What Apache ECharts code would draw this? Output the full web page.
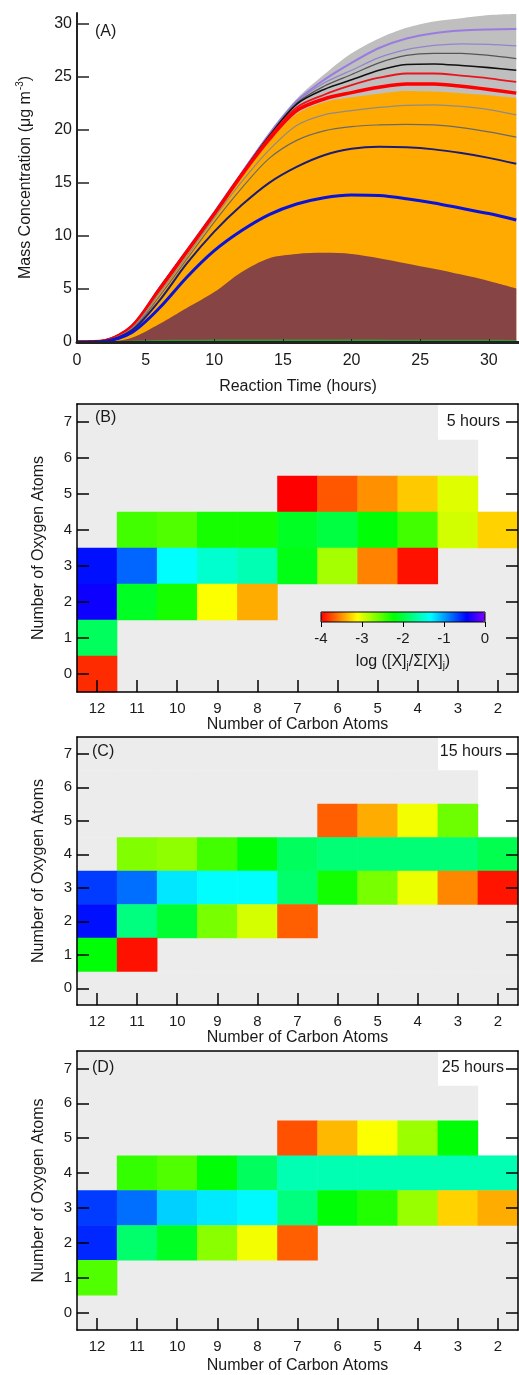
<!DOCTYPE html>
<html>
<head>
<meta charset="utf-8">
<script src="https://cdn.jsdelivr.net/npm/echarts@6.0.0/dist/echarts.min.js"></script>
<style>
  html, body { margin: 0; padding: 0; background: #fff; }
  #chart { width: 519px; height: 1375px; }
</style>
</head>
<body>
<div id="chart"></div>
<script>
// ---- panel A: mass concentration vs reaction time (curves) ----
const times = [0, 2, 4, 6, 8, 10, 12, 14, 16, 18, 20, 22, 24, 26, 28, 30, 32];
const timeTicks = [0, 5, 10, 15, 20, 25, 30];
const massTicks = [0, 5, 10, 15, 20, 25, 30];

const envelope    = [0, 0.15, 1.6, 5.2, 8.7, 12.3, 16.0, 19.7, 22.9, 25.2, 27.2, 28.6, 29.6, 30.2, 30.5, 30.8, 30.9];
const purpleThick = [0, 0.15, 1.55, 5.1, 8.65, 12.25, 15.95, 19.6, 22.7, 24.7, 26.3, 27.7, 28.6, 29.1, 29.35, 29.45, 29.5];
const purpleThin  = [0, 0.15, 1.55, 5.1, 8.6, 12.2, 15.9, 19.5, 22.6, 24.4, 25.6, 26.8, 27.55, 27.95, 28.1, 28.05, 27.9];
const darkGray    = [0, 0.15, 1.5, 5.05, 8.6, 12.2, 15.9, 19.45, 22.5, 24.1, 25.2, 26.3, 27.0, 27.2, 27.2, 27.0, 26.7];
const blackLine   = [0, 0.15, 1.5, 5.05, 8.6, 12.15, 15.85, 19.4, 22.4, 23.8, 24.7, 25.6, 26.15, 26.2, 26.05, 25.85, 25.6];
const redThin     = [0, 0.15, 1.5, 5.0, 8.55, 12.1, 15.8, 19.3, 22.1, 23.3, 24.2, 24.9, 25.3, 25.3, 25.1, 24.85, 24.5];
const redThick    = [0, 0.1, 1.45, 4.95, 8.5, 12.05, 15.75, 19.1, 21.8, 22.9, 23.5, 24.0, 24.3, 24.3, 24.1, 23.8, 23.45];
const orangeTop   = [0, 0.1, 1.4, 4.9, 8.4, 12.0, 15.6, 18.85, 21.5, 22.6, 23.05, 23.4, 23.65, 23.6, 23.45, 23.25, 23.0];
const grayLine2   = [0, 0.1, 1.3, 4.6, 8.1, 11.7, 15.1, 18.1, 20.4, 21.4, 21.8, 22.1, 22.3, 22.35, 22.2, 21.9, 21.4];
const grayLine1   = [0, 0.1, 1.2, 4.3, 7.8, 11.3, 14.5, 17.3, 19.0, 19.9, 20.3, 20.45, 20.5, 20.45, 20.2, 19.8, 19.3];
const navyLine    = [0, 0.1, 1.1, 3.9, 7.4, 10.4, 12.9, 15.0, 16.5, 17.6, 18.2, 18.4, 18.35, 18.15, 17.8, 17.35, 16.8];
const blueLine    = [0, 0.05, 0.9, 3.2, 6.1, 8.6, 10.5, 12.0, 13.0, 13.6, 13.85, 13.8, 13.5, 13.1, 12.6, 12.1, 11.5];
const brownTop    = [0, 0, 0.4, 1.7, 3.2, 4.7, 6.6, 7.9, 8.3, 8.4, 8.3, 7.9, 7.4, 6.9, 6.35, 5.75, 5.05];
const greenLine   = [0, 0, 0.05, 0.1, 0.12, 0.13, 0.14, 0.14, 0.14, 0.14, 0.13, 0.13, 0.12, 0.12, 0.11, 0.11, 0.1];

// ---- panels B-D: log fraction by carbon / oxygen number ----
const carbons = [12, 11, 10, 9, 8, 7, 6, 5, 4, 3, 2];
const oxygens = [0, 1, 2, 3, 4, 5, 6, 7];
const maxOxygen = [7, 7, 7, 7, 7, 7, 7, 7, 7, 6, 4]; // shaded (possible) cells per carbon
const colorTicks = [-4, -3, -2, -1, 0];

// [carbon, oxygen, log value]
const cells5h = [
  [7, 5, -4.0], [6, 5, -3.7], [5, 5, -3.5], [4, 5, -3.3], [3, 5, -3.0],
  [11, 4, -2.45], [10, 4, -2.5], [9, 4, -2.3], [8, 4, -2.3], [7, 4, -2.1], [6, 4, -2.0], [5, 4, -2.2], [4, 4, -2.45], [3, 4, -2.95], [2, 4, -3.27],
  [12, 3, -0.5], [11, 3, -0.8], [10, 3, -1.33], [9, 3, -1.5], [8, 3, -1.6], [7, 3, -2.15], [6, 3, -2.8], [5, 3, -3.55], [4, 3, -3.94],
  [12, 2, -0.4], [11, 2, -2.1], [10, 2, -2.3], [9, 2, -3.1], [8, 2, -3.4],
  [12, 1, -1.9],
  [12, 0, -3.85]
];
const cells15h = [
  [6, 5, -3.67], [5, 5, -3.4], [4, 5, -3.07], [3, 5, -2.6],
  [11, 4, -2.67], [10, 4, -2.72], [9, 4, -2.45], [8, 4, -2.2], [7, 4, -1.9], [6, 4, -1.82], [5, 4, -1.82], [4, 4, -1.82], [3, 4, -1.82], [2, 4, -1.95],
  [12, 3, -0.65], [11, 3, -0.83], [10, 3, -1.25], [9, 3, -1.33], [8, 3, -1.33], [7, 3, -1.85], [6, 3, -2.28], [5, 3, -2.64], [4, 3, -3.04], [3, 3, -3.53], [2, 3, -3.93],
  [12, 2, -0.5], [11, 2, -1.78], [10, 2, -2.05], [9, 2, -2.64], [8, 2, -2.96], [7, 2, -3.67],
  [12, 1, -2.2], [11, 1, -3.94]
];
const cells25h = [
  [7, 5, -3.72], [6, 5, -3.36], [5, 5, -3.1], [4, 5, -2.76], [3, 5, -2.2],
  [11, 4, -2.4], [10, 4, -2.5], [9, 4, -2.2], [8, 4, -1.9], [7, 4, -1.6], [6, 4, -1.6], [5, 4, -1.6], [4, 4, -1.6], [3, 4, -1.6], [2, 4, -1.6],
  [12, 3, -0.65], [11, 3, -0.83], [10, 3, -1.17], [9, 3, -1.26], [8, 3, -1.31], [7, 3, -1.78], [6, 3, -2.2], [5, 3, -2.34], [4, 3, -2.75], [3, 3, -3.27], [2, 3, -3.4],
  [12, 2, -0.58], [11, 2, -1.85], [10, 2, -2.1], [9, 2, -2.7], [8, 2, -3.07], [7, 2, -3.67],
  [12, 1, -2.5]
];

const rainbow = ['#ff0000', '#ff8000', '#ffff00', '#80ff00', '#00ff00', '#00ff80', '#00ffff', '#0080ff', '#0000ff', '#8000ff'];

const font = 'Liberation Sans, Arial, sans-serif';
const ink = '#1a1a1a';
const chart = echarts.init(document.getElementById('chart'));

const grids = [
  { left: 77, top: 13, width: 442, height: 329 },
  { left: 77, top: 404, width: 441, height: 288 },
  { left: 77, top: 737, width: 441, height: 268 },
  { left: 77, top: 1051, width: 441, height: 279 },
  { left: 321, top: 612, width: 164, height: 10, show: true, borderColor: '#000', borderWidth: 1, backgroundColor: 'transparent', z: 10 }
];

const xAxes = [{
  type: 'value', gridIndex: 0, min: 0, max: 32.2,
  axisLine: { lineStyle: { color: '#222', width: 3 } },
  axisTick: { show: true, inside: true, length: 3, customValues: timeTicks, lineStyle: { color: '#222' } },
  axisLabel: { customValues: timeTicks, fontSize: 16, color: ink, margin: 11, fontFamily: font },
  splitLine: { show: false },
  name: 'Reaction Time (hours)', nameLocation: 'middle', nameGap: 37,
  nameTextStyle: { fontSize: 16, color: ink, fontFamily: font },
  z: 5
}];
const yAxes = [{
  type: 'value', gridIndex: 0, min: 0, max: 31,
  axisLine: { show: true, lineStyle: { color: '#222', width: 2 } },
  axisTick: { show: true, inside: true, length: 12, customValues: massTicks, lineStyle: { color: '#222', width: 1.5 } },
  axisLabel: { customValues: massTicks, fontSize: 16, color: ink, margin: 5, fontFamily: font },
  splitLine: { show: false },
  name: 'Mass Concentration (μg m{sup|-3})', nameLocation: 'middle', nameGap: 41,
  nameTextStyle: {
    fontSize: 16, color: ink, fontFamily: font,
    rich: { sup: { fontSize: 10, color: ink, fontFamily: font, verticalAlign: 'top', padding: [0, 0, 11, 1] } }
  },
  z: 5
}];

const series = [];
function curve(data, color, width, fill) {
  series.push({
    type: 'line', xAxisIndex: 0, yAxisIndex: 0,
    data: times.map((t, i) => [t, data[i]]),
    symbol: 'none', smooth: 0.3, silent: true,
    lineStyle: { color: color, width: width },
    areaStyle: fill ? { color: fill, opacity: 1 } : undefined
  });
}
// filled bands first, boundary lines on top
curve(envelope, '#bdbdbd', 0, '#bfbfbf');
curve(orangeTop, '#ffaa00', 0, '#ffaa00');
curve(brownTop, '#864444', 0, '#864444');
curve(purpleThick, '#9a7ce0', 2);
curve(purpleThin, '#9384cc', 1.2);
curve(darkGray, '#555555', 1.2);
curve(blackLine, '#111111', 1.6);
curve(redThin, '#e8141e', 1.8);
curve(redThick, '#ff0000', 3.5);
curve(grayLine2, '#8c8c8c', 1.2);
curve(grayLine1, '#6a6a6a', 1.2);
curve(navyLine, '#1c1c78', 2);
curve(blueLine, '#0a14d8', 3);
curve(greenLine, '#2f9e2f', 2);

const heatIdx = [];
function heatPanel(k, cells) {
  const xi = xAxes.length, yi = yAxes.length;
  const line = { color: '#000', width: 1.5 };
  xAxes.push({
    type: 'category', gridIndex: k, data: carbons.map(String), position: 'bottom',
    axisLine: { show: true, lineStyle: line },
    axisTick: { show: true, inside: true, length: 12, alignWithLabel: true, interval: 0, lineStyle: line },
    axisLabel: { fontSize: 15, color: ink, margin: 9, fontFamily: font, interval: 0 },
    name: 'Number of Carbon Atoms', nameLocation: 'middle', nameGap: k === 3 ? 28 : 25,
    nameTextStyle: { fontSize: 16, color: ink, fontFamily: font },
    z: 5
  }, {
    type: 'category', gridIndex: k, data: carbons.map(String), position: 'top',
    axisLine: { show: true, lineStyle: line }, axisTick: { show: false }, axisLabel: { show: false }, z: 5
  });
  yAxes.push({
    type: 'category', gridIndex: k, data: oxygens.map(String), position: 'left',
    axisLine: { show: true, lineStyle: line },
    axisTick: { show: true, inside: true, length: 12, alignWithLabel: true, interval: 0, lineStyle: line },
    axisLabel: { fontSize: 15, color: ink, margin: 5, fontFamily: font, interval: 0 },
    name: 'Number of Oxygen Atoms', nameLocation: 'middle', nameGap: 30,
    nameTextStyle: { fontSize: 16, color: ink, fontFamily: font },
    z: 5
  }, {
    type: 'category', gridIndex: k, data: oxygens.map(String), position: 'right',
    axisLine: { show: true, lineStyle: line },
    axisTick: { show: true, inside: true, length: 12, alignWithLabel: true, interval: 0, lineStyle: line },
    axisLabel: { show: false }, z: 5
  });
  const bg = [];
  carbons.forEach((c, i) => {
    oxygens.forEach(o => { if (o <= maxOxygen[i]) bg.push([i, o, 0]); });
  });
  series.push({
    type: 'heatmap', xAxisIndex: xi, yAxisIndex: yi, data: bg, silent: true, z: 1,
    itemStyle: { color: '#ececec', borderWidth: 0 }
  });
  heatIdx.push(series.length);
  series.push({
    type: 'heatmap', xAxisIndex: xi, yAxisIndex: yi, silent: true, z: 1,
    data: cells.map(d => [carbons.indexOf(d[0]), d[1], d[2]]),
    itemStyle: { borderWidth: 0 }
  });
}
heatPanel(1, cells5h);
heatPanel(2, cells15h);
heatPanel(3, cells25h);

// colour bar axis
const cbX = xAxes.length, cbY = yAxes.length;
xAxes.push({
  type: 'value', gridIndex: 4, min: -4, max: 0,
  axisLine: { show: false },
  axisTick: { show: true, length: 5, customValues: colorTicks, lineStyle: { color: '#000' } },
  axisLabel: { show: true, customValues: colorTicks, fontSize: 15, color: ink, margin: 9, fontFamily: font },
  splitLine: { show: false },
  name: 'log ([X]{sub|j}/Σ[X]{sub|j})', nameLocation: 'middle', nameGap: 30,
  nameTextStyle: {
    fontSize: 16, color: ink, fontFamily: font,
    rich: { sub: { fontSize: 10, color: ink, fontFamily: font, verticalAlign: 'bottom', padding: [9, 0, 0, 0] } }
  },
  z: 12
});
yAxes.push({ type: 'value', gridIndex: 4, show: false, min: 0, max: 1 });
series.push({ type: 'line', xAxisIndex: cbX, yAxisIndex: cbY, data: [[-4, -1]], symbol: 'none', silent: true });

const label = (text, pos) => Object.assign({
  text: text, padding: 0,
  textStyle: { fontSize: 16, fontWeight: 'normal', color: ink, fontFamily: font }
}, pos);

chart.setOption({
  animation: false,
  backgroundColor: '#fff',
  title: [
    label('(A)', { left: 95, top: 24 }),
    label('(B)', { left: 95, top: 410 }),
    label('5 hours', { right: 19, top: 414 }),
    label('(C)', { left: 92, top: 744 }),
    label('15 hours', { right: 17, top: 744 }),
    label('(D)', { left: 92, top: 1060 }),
    label('25 hours', { right: 15, top: 1060 })
  ],
  grid: grids,
  xAxis: xAxes,
  yAxis: yAxes,
  visualMap: {
    type: 'continuous', min: -4, max: 0, seriesIndex: heatIdx, dimension: 2,
    orient: 'horizontal', left: 321, top: 612, itemWidth: 10, itemHeight: 164,
    calculable: false, padding: 0, hoverLink: false,
    inRange: { color: rainbow }
  },
  series: series
});
</script>
</body>
</html>
